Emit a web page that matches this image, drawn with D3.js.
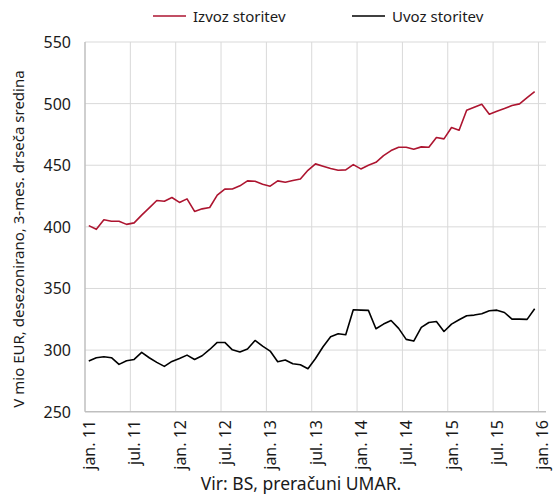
<!DOCTYPE html>
<html>
<head>
<meta charset="utf-8">
<script src="https://cdn.jsdelivr.net/npm/d3@7"></script>
<style>
  html, body { margin: 0; padding: 0; background: #fff; }
  svg { display: block; font-family: "Noto Sans", "Open Sans", sans-serif; }
</style>
</head>
<body>
<svg id="chart" width="558" height="494"></svg>
<script>
// ---- data ----
const years = ["11", "12", "13", "14", "15"];
const monthNames = ["jan.", "feb.", "mar.", "apr.", "maj.", "jun.", "jul.", "avg.", "sep.", "okt.", "nov.", "dec."];
const categories = [];
years.forEach(yr => monthNames.forEach(m => categories.push(m + " " + yr)));
categories.push("jan. 16");

const tickLabels = ["jan. 11", "jul. 11", "jan. 12", "jul. 12", "jan. 13", "jul. 13", "jan. 14", "jul. 14", "jan. 15", "jul. 15", "jan. 16"];

const izvoz = [401.0, 398.0, 405.7, 404.6, 404.6, 402.0, 403.2, 409.5, 415.4, 421.4,
               420.8, 423.8, 419.8, 422.7, 412.5, 414.6, 415.7, 425.7, 430.6, 430.7,
               433.3, 437.3, 437.0, 434.6, 433.0, 437.3, 436.2, 437.6, 438.9, 445.9,
               451.1, 449.2, 447.3, 445.9, 446.2, 450.5, 447.0, 450.0, 452.4, 457.8,
               461.9, 464.6, 464.6, 463.0, 464.9, 464.6, 472.5, 471.4, 480.6, 478.4,
               494.6, 497.1, 499.5, 491.4, 493.8, 496.0, 498.4, 499.8, 504.9, 509.8];

const uvoz = [291.1, 293.8, 294.6, 293.8, 288.4, 291.3, 292.4, 298.1, 293.8, 290.0,
              286.8, 290.8, 293.2, 295.9, 292.4, 295.4, 300.5, 306.2, 306.2, 300.2,
              298.5, 300.8, 307.8, 303.2, 299.2, 290.5, 291.9, 288.9, 288.1, 284.9,
              293.2, 302.7, 310.8, 313.2, 312.4, 332.7, 332.4, 332.2, 317.3, 321.1,
              324.0, 317.6, 308.7, 307.3, 318.4, 322.4, 323.2, 315.1, 321.1, 324.6,
              327.8, 328.4, 329.5, 331.9, 332.4, 330.5, 325.1, 325.1, 324.9, 333.5];

const yTicks = [250, 300, 350, 400, 450, 500, 550];
const seriesNames = ["Izvoz storitev", "Uvoz storitev"];
const seriesColors = ["#ad1530", "#000000"];
const yTitle = "V mio EUR, desezonirano, 3-mes. drseča sredina";
const source = "Vir: BS, preračuni UMAR.";

(function () {
  const svg = d3.select("#chart");
  const pl = 85, pr = 546, pt = 42, pb = 411.7;

  const x = d3.scaleBand().domain(categories).range([pl, pr]).paddingInner(0).paddingOuter(0);
  const y = d3.scaleLinear().domain([250, 550]).range([pb, pt]);
  const cx = d => x(d) + x.bandwidth() / 2;

  // horizontal gridlines
  svg.append("g").selectAll("line").data(yTicks.filter(v => v > 250)).join("line")
    .attr("x1", pl).attr("x2", pr)
    .attr("y1", d => y(d)).attr("y2", d => y(d))
    .attr("stroke", "#d9d9d9").attr("stroke-width", 1);

  // vertical gridlines at tick categories
  svg.append("g").selectAll("line").data(tickLabels.slice(1)).join("line")
    .attr("x1", d => x(d)).attr("x2", d => x(d))
    .attr("y1", pt).attr("y2", pb)
    .attr("stroke", "#d9d9d9").attr("stroke-width", 1);

  // axis lines
  svg.append("line").attr("x1", pl).attr("x2", pl).attr("y1", pt).attr("y2", pb)
    .attr("stroke", "#bfbfbf").attr("stroke-width", 1.5);
  svg.append("line").attr("x1", pl).attr("x2", pr).attr("y1", pb).attr("y2", pb)
    .attr("stroke", "#bfbfbf").attr("stroke-width", 1.5);

  // y tick labels
  svg.append("g").selectAll("text").data(yTicks).join("text")
    .attr("x", 71).attr("y", d => y(d))
    .attr("text-anchor", "end").attr("dominant-baseline", "central")
    .attr("font-size", 16).attr("fill", "#1a1a1a")
    .text(d => d);

  // x tick labels (rotated)
  svg.append("g").selectAll("text").data(tickLabels).join("text")
    .attr("transform", d => `translate(${x(d) + 4},420) rotate(-90)`)
    .attr("text-anchor", "end").attr("dominant-baseline", "central")
    .attr("font-size", 16).attr("fill", "#1a1a1a")
    .text(d => d);

  // y title
  svg.append("text")
    .attr("transform", "translate(18,239) rotate(-90)")
    .attr("text-anchor", "middle").attr("dominant-baseline", "central")
    .attr("font-size", 15).attr("fill", "#1a1a1a")
    .text(yTitle);

  // source
  svg.append("text").attr("x", 301).attr("y", 483)
    .attr("text-anchor", "middle").attr("dominant-baseline", "central")
    .attr("font-size", 17.5).attr("fill", "#1a1a1a")
    .text(source);

  // lines
  const line = d3.line().x((d, i) => cx(categories[i])).y(d => y(d));
  [izvoz, uvoz].forEach((s, k) => {
    svg.append("path").datum(s)
      .attr("d", line).attr("fill", "none")
      .attr("stroke", seriesColors[k]).attr("stroke-width", 1.6)
      .attr("stroke-linejoin", "round");
  });

  // legend
  const legendX = [153, 352];
  seriesNames.forEach((n, k) => {
    svg.append("line").attr("x1", legendX[k]).attr("x2", legendX[k] + 33)
      .attr("y1", 16).attr("y2", 16)
      .attr("stroke", seriesColors[k]).attr("stroke-width", 1.6);
    svg.append("text").attr("x", legendX[k] + 40).attr("y", 16)
      .attr("dominant-baseline", "central")
      .attr("font-size", 15).attr("fill", "#1a1a1a")
      .text(n);
  });
})();
</script>
</body>
</html>
